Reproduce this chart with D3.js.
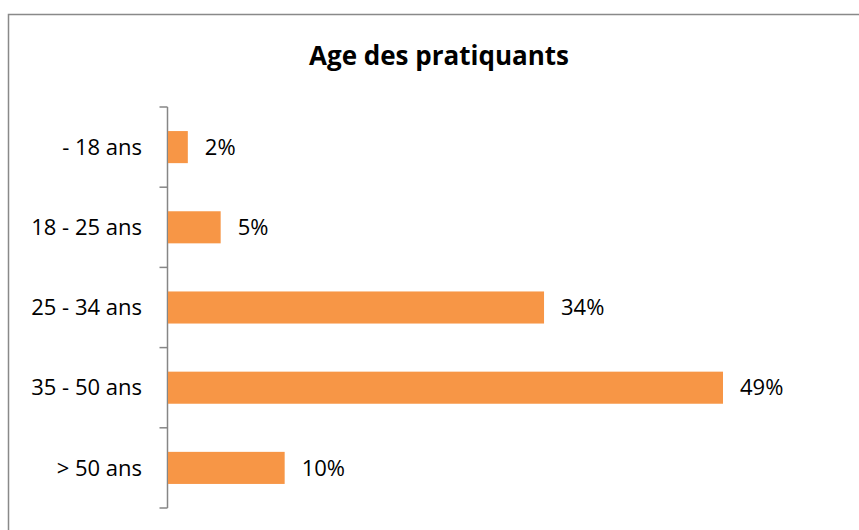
<!DOCTYPE html>
<html>
<head>
<meta charset="utf-8">
<script src="https://cdn.jsdelivr.net/npm/d3@7"></script>
<style>
  body { margin: 0; background: #fff; }
  svg { display: block; font-family: "Open Sans", "Noto Sans", sans-serif; }
</style>
</head>
<body>
<svg id="chart" width="859" height="530"></svg>
<script>
// categories, top to bottom
let ageGroups = ["- 18 ans", "18 - 25 ans", "25 - 34 ans", "35 - 50 ans", "> 50 ans"];
// share of players (%)
let shares = [1.75, 4.65, 33.2, 49, 10.3];
// data labels as printed on the chart
let shareLabels = ["2%", "5%", "34%", "49%", "10%"];

let svg = d3.select("#chart");

// outer frame (cut off at right and bottom)
svg.append("rect")
  .attr("x", 8.5)
  .attr("y", 14.5)
  .attr("width", 900)
  .attr("height", 600)
  .style("fill", "none")
  .style("stroke", "#898989")
  .style("stroke-width", 1.5);

// title
svg.append("text")
  .attr("x", 439)
  .attr("y", 65)
  .attr("text-anchor", "middle")
  .style("font-size", "26px")
  .style("font-weight", "bold")
  .text("Age des pratiquants");

let xScale = d3.scaleLinear()
  .domain([0, 49])
  .range([168, 723]);

let yScale = d3.scaleBand()
  .domain(ageGroups)
  .range([107, 508])
  .paddingInner(0.6)
  .paddingOuter(0.3);

// axis line + ticks between categories
let axisX = 167.5;
svg.append("line")
  .attr("x1", axisX).attr("x2", axisX)
  .attr("y1", 107).attr("y2", 508)
  .style("stroke", "#868686")
  .style("stroke-width", 1.5);

let boundaries = d3.range(ageGroups.length + 1).map(i => 107 + i * (401 / ageGroups.length));
svg.selectAll(".tick")
  .data(boundaries)
  .enter()
  .append("line")
  .attr("class", "tick")
  .attr("x1", axisX - 8).attr("x2", axisX)
  .attr("y1", d => d).attr("y2", d => d)
  .style("stroke", "#868686")
  .style("stroke-width", 1.5);

// bars
svg.selectAll(".bar")
  .data(shares)
  .enter()
  .append("rect")
  .attr("class", "bar")
  .attr("x", xScale(0))
  .attr("y", (d, i) => yScale(ageGroups[i]))
  .attr("width", d => xScale(d) - xScale(0))
  .attr("height", yScale.bandwidth())
  .style("fill", "#F79646");

// category labels
svg.selectAll(".cat")
  .data(ageGroups)
  .enter()
  .append("text")
  .attr("class", "cat")
  .attr("x", 142)
  .attr("y", d => yScale(d) + yScale.bandwidth() / 2)
  .attr("dy", "0.35em")
  .attr("text-anchor", "end")
  .style("font-size", "22px")
  .text(d => d);

// value labels
svg.selectAll(".val")
  .data(shares)
  .enter()
  .append("text")
  .attr("class", "val")
  .attr("x", d => xScale(d) + 17)
  .attr("y", (d, i) => yScale(ageGroups[i]) + yScale.bandwidth() / 2)
  .attr("dy", "0.35em")
  .style("font-size", "22px")
  .text((d, i) => shareLabels[i]);
</script>
</body>
</html>
